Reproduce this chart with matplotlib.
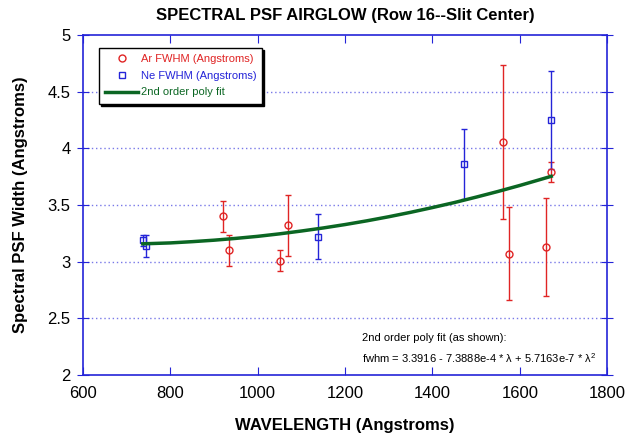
import matplotlib.pyplot as plt
from matplotlib.lines import Line2D

plt.rcParams['font.family'] = ['Liberation Sans', 'DejaVu Sans']
plt.rcParams['mathtext.fontset'] = 'custom'
plt.rcParams['mathtext.rm'] = 'Liberation Sans'
plt.rcParams['mathtext.it'] = 'Liberation Sans'

# Ar lines
ar_wave = [921, 934, 1051, 1069, 1562, 1576, 1659, 1672]
ar_fwhm = [3.40, 3.10, 3.01, 3.32, 4.06, 3.07, 3.13, 3.79]
ar_err = [0.14, 0.14, 0.09, 0.27, 0.68, 0.41, 0.43, 0.09]

# Ne lines
ne_wave = [737, 744, 1139, 1472, 1671]
ne_fwhm = [3.19, 3.14, 3.22, 3.86, 4.25]
ne_err = [0.05, 0.10, 0.20, 0.31, 0.43]

# 2nd order fit curve
fit_wave = [737, 800, 850, 900, 950, 1000, 1050, 1100, 1150, 1200, 1250,
            1300, 1350, 1400, 1450, 1500, 1550, 1600, 1650, 1672]
fit_fwhm = [3.158, 3.166, 3.177, 3.190, 3.206, 3.224, 3.246, 3.271, 3.298,
            3.328, 3.361, 3.397, 3.436, 3.478, 3.522, 3.570, 3.620, 3.673,
            3.729, 3.754]

xticks = [600, 800, 1000, 1200, 1400, 1600, 1800]
yticks = [2, 2.5, 3, 3.5, 4, 4.5, 5]

red = '#E02424'
blue = '#2424D8'
green = '#0B6623'

fig = plt.figure(figsize=(6.3, 4.38), dpi=100)
ax = fig.add_axes([0.1317, 0.1438, 0.832, 0.776])

ax.set_axisbelow(True)
for y in yticks[1:-1]:
    ax.axhline(y, color='#7878E8', linestyle=(0, (1, 2)), linewidth=1.0, zorder=0)

ax.errorbar(ar_wave, ar_fwhm, yerr=ar_err, fmt='o', color=red, mfc='none',
            mec=red, ms=5, mew=1, capsize=2.5, elinewidth=1, capthick=1,
            zorder=3)
ax.errorbar(ne_wave, ne_fwhm, yerr=ne_err, fmt='s', color=blue, mfc='none',
            mec=blue, ms=5, mew=1, capsize=2.5, elinewidth=1, capthick=1,
            zorder=3)
ax.plot(fit_wave, fit_fwhm, color=green, linewidth=2.5, zorder=4)

ax.set_xlim(600, 1800)
ax.set_ylim(2, 5)
ax.set_xticks(xticks)
ax.set_yticks(yticks)
ax.set_yticklabels(['2', '2.5', '3', '3.5', '4', '4.5', '5'])

for side in ax.spines:
    ax.spines[side].set_color(blue)
    ax.spines[side].set_linewidth(1.2)
ax.tick_params(axis='both', colors=blue, labelcolor='black', labelsize=12)
ax.tick_params(axis='y', direction='inout', length=8, right=True, pad=5)
ax.tick_params(axis='x', direction='in', length=6, top=True, pad=8)

ax.set_xlabel('WAVELENGTH (Angstroms)', fontsize=12, fontweight='bold', labelpad=12)
ax.set_ylabel('Spectral PSF Width (Angstroms)', fontsize=12, fontweight='bold', labelpad=14)
ax.set_title('SPECTRAL PSF AIRGLOW (Row 16--Slit Center)', fontsize=12,
             fontweight='bold', pad=11)

handles = [
    Line2D([], [], color=red, marker='o', mfc='none', ms=5, linestyle='none'),
    Line2D([], [], color=blue, marker='s', mfc='none', ms=5, linestyle='none'),
    Line2D([], [], color=green, linewidth=2.5),
]
labels = ['Ar FWHM (Angstroms)', 'Ne FWHM (Angstroms)', '2nd order poly fit']
leg = ax.legend(handles, labels, loc='upper left', bbox_to_anchor=(0.0305, 0.962),
                borderaxespad=0, fontsize=8, frameon=True, fancybox=False,
                shadow={'color': 'black', 'alpha': 1.0, 'ox': 1.5, 'oy': -1.5},
                borderpad=0.55, handlelength=3.0, handletextpad=0.2,
                labelspacing=0.6, edgecolor='black', framealpha=1)
leg.get_frame().set_linewidth(1.0)
for txt, c in zip(leg.get_texts(), [red, blue, green]):
    txt.set_color(c)

ax.text(0.532, 0.109, '2nd order poly fit (as shown):', transform=ax.transAxes,
        fontsize=8, va='center')
ax.text(0.532, 0.05,
        r'fwhm = 3.3916 - 7.3888e-4 * $\lambda$ + 5.7163e-7 * $\lambda^2$',
        transform=ax.transAxes, fontsize=8, va='center')

fig.savefig('out.png', dpi=100)
